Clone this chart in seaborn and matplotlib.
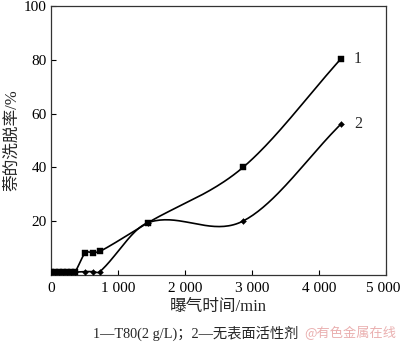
import numpy as np
import matplotlib
matplotlib.use("Agg")
import matplotlib.pyplot as plt
import matplotlib.transforms as mtransforms
import seaborn as sns

# ---- data ----
time_min = [0, 60, 120, 180, 240, 300, 360, 507, 622, 731, 1448, 2866, 4323]
rate_t80 = [1.2, 1.2, 1.2, 1.2, 1.2, 1.2, 1.2, 8.0, 8.3, 8.7, 19.4, 40.0, 80.3]
rate_none = [1.0, 1.0, 1.0, 1.0, 1.0, 1.0, 1.0, 1.2, 1.2, 1.2, 19.4, 20.0, 56.0]
x_ticks = [0, 1000, 2000, 3000, 4000, 5000]
x_tick_labels = ["0", "1 000", "2 000", "3 000", "4 000", "5 000"]
y_ticks = [20, 40, 60, 80, 100]
y_tick_labels = ["20", "40", "60", "80", "100"]
series_labels = ["1", "2"]
x_label = "曝气时间/min"
y_label = "萘的洗脱率/%"
caption = "1—T80(2 g/L)；2—无表面活性剂"
watermark = "@有色金属在线"


def smooth(x, y, n=40):
    x = np.asarray(x, float)
    y = np.asarray(y, float)
    m = np.zeros_like(y)
    m[0] = (y[1] - y[0]) / (x[1] - x[0])
    m[-1] = (y[-1] - y[-2]) / (x[-1] - x[-2])
    for i in range(1, len(x) - 1):
        m[i] = (y[i + 1] - y[i - 1]) / (x[i + 1] - x[i - 1])
    xs, ys = [], []
    for i in range(len(x) - 1):
        h = x[i + 1] - x[i]
        t = np.linspace(0, 1, n, endpoint=(i == len(x) - 2))
        h00 = 2 * t**3 - 3 * t**2 + 1
        h10 = t**3 - 2 * t**2 + t
        h01 = -2 * t**3 + 3 * t**2
        h11 = t**3 - t**2
        xs.append(x[i] + t * h)
        ys.append(h00 * y[i] + h10 * h * m[i] + h01 * y[i + 1] + h11 * h * m[i + 1])
    return np.concatenate(xs), np.concatenate(ys)


sns.set_style("white")
serif_cjk = ["Liberation Serif", "Noto Sans CJK SC"]
plt.rcParams["font.family"] = serif_cjk

fig = plt.figure(figsize=(4.0, 3.45), dpi=100)
ax = fig.add_axes([0.1275, 0.2035, 0.8375, 0.7785])

for ys, mk, ms in [(rate_t80, "s", 24), (rate_none, "D", 9)]:
    sx, sy = smooth(time_min, ys)
    sns.lineplot(x=sx, y=sy, ax=ax, color="black", linewidth=1.2,
                 sort=False, estimator=None, legend=False)
    sns.scatterplot(x=time_min, y=ys, ax=ax, color="black", marker=mk,
                    s=ms, edgecolor="black", linewidth=0.3, legend=False, zorder=3)

ax.text(4520, rate_t80[-1], series_labels[0], fontsize=11.5, va="center", ha="left",
        family=serif_cjk)
ax.text(4520, rate_none[-1], series_labels[1], fontsize=11.5, va="center", ha="left",
        family=serif_cjk)

ax.set_xlim(0, 5000)
ax.set_ylim(0, 100)
ax.set_xticks(x_ticks)
ax.set_xticklabels(x_tick_labels)
ax.set_yticks(y_ticks)
ax.set_yticklabels(y_tick_labels)
ax.tick_params(direction="in", length=3.5, width=0.8, labelsize=11, pad=3,
               bottom=True, left=True, top=False, right=False, colors="black")
ax.tick_params(axis="x", pad=5)
last = ax.get_xticklabels()[-1]
last.set_transform(last.get_transform() +
                   mtransforms.ScaledTranslation(-3 / 100, 0, fig.dpi_scale_trans))
for s in ax.spines.values():
    s.set_color("#333333")
    s.set_linewidth(0.9)
ax.set_xlabel(x_label, fontsize=12, labelpad=3)
ax.set_ylabel(y_label, fontsize=12, labelpad=3)

fig.text(0.49, 0.035, caption, fontsize=10.3, ha="center", va="center",
         family=serif_cjk)
fig.text(0.875, 0.035, watermark, fontsize=9.5, ha="center", va="center",
         color="#eab0b0", family=["Noto Sans CJK SC", "DejaVu Sans"])

fig.savefig("out.png", dpi=100, facecolor="white")
